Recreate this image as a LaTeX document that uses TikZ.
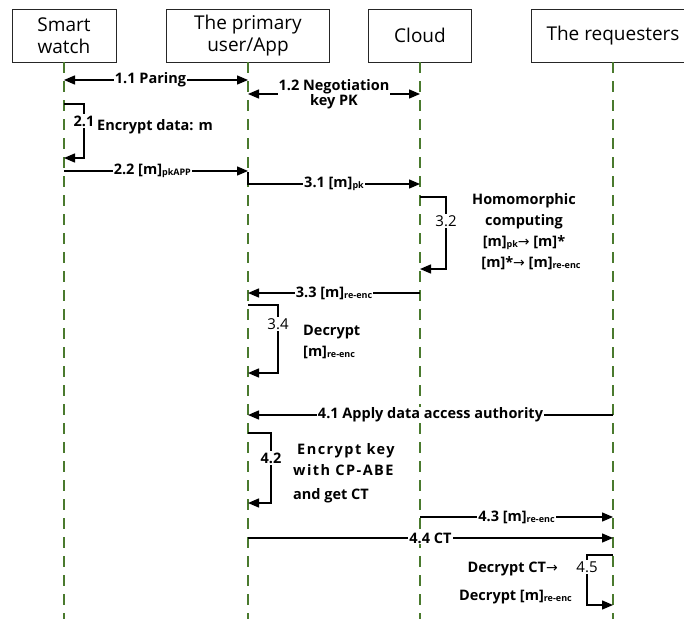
\documentclass[tikz,border=0pt]{standalone}
\usepackage{fontspec}
\setmainfont{Open Sans}
\newfontfamily\arrfont{DejaVu Sans}
\newfontfamily\lsfont[LetterSpace=10]{Open Sans}
\usetikzlibrary{arrows.meta}
\definecolor{lifegreen}{HTML}{4A7A2E}
\newcommand{\sbs}[1]{\raisebox{-1pt}{\fontsize{9}{9}\selectfont #1}}
\newcommand{\rarr}{{\arrfont\mdseries\fontsize{14}{14}\selectfont →}}
\begin{document}
\begin{tikzpicture}[x=1pt,y=-1pt,
  actor/.style={draw=black!85, line width=0.9pt, minimum height=53pt,
    font=\fontsize{19}{22.5}\selectfont, align=center, inner sep=0pt},
  life/.style={draw=lifegreen, line width=1.3pt, dash pattern=on 11pt off 8pt},
  msg/.style={line width=1.4pt, -{Triangle[length=11pt,width=9pt]}},
  msgboth/.style={line width=1.4pt, {Triangle[length=11pt,width=9pt]}-{Triangle[length=11pt,width=9pt]}},
  loop/.style={line width=1.4pt, -{Triangle[length=11pt,width=9pt]}},
  lbl/.style={fill=white, inner sep=1pt, font=\bfseries\fontsize{14.5}{17}\selectfont, align=center},
  num/.style={fill=white, inner sep=1.5pt, font=\fontsize{15}{16}\selectfont},
  bnum/.style={fill=white, inner sep=1.5pt, font=\bfseries\fontsize{14.5}{16}\selectfont},
  txt/.style={font=\bfseries\fontsize{14.5}{21}\selectfont, inner sep=0pt},
]
\clip (0,0) rectangle (684,618);
\fill[white] (0,0) rectangle (684,618);

% actors
\node[actor, minimum width=104pt] (sw) at (64,35.5) {Smart\\watch};
\node[actor, minimum width=163pt] (app) at (248,35.5) {The primary\\user/App};
\node[actor, minimum width=103pt] (cl) at (420,35.5) {Cloud};
\node[actor, minimum width=164pt] (rq) at (613,35.5) {The requesters};

% lifelines
\draw[life] (sw.south) -- (sw.south |- 0,620);
\draw[life] (app.south) -- (app.south |- 0,620);
\draw[life] (cl.south) -- (cl.south |- 0,620);
\draw[life] (rq.south) -- (rq.south |- 0,620);

% 1.1
\draw[msgboth] (sw.south |- 0,80) -- node[lbl, pos=0.47] {1.1 Paring} (app.south |- 0,80);
% 1.2
\draw[msgboth] (app.south |- 0,94) -- node[lbl] {1.2 Negotiation\\[-2pt]key PK} (cl.south |- 0,94);
% 2.1
\draw[loop] (sw.south |- 0,104) -- ++(20,0) -- ++(0,54) -- (sw.south |- 0,158);
\node[bnum] (n21) at (84,121) {2.1};
\node[txt, anchor=west] (t21) at (97,127) {Encrypt data: m};
% 2.2
\draw[msg] (sw.south |- 0,171) -- node[lbl, pos=0.48] {2.2 [m]\sbs{pkAPP}} (app.south |- 0,171);
% 3.1
\draw[msg] (app.south |- 0,172) |- node[lbl, pos=0.75] {3.1 [m]\sbs{pk}} (cl.south |- 0,184);
% 3.2
\draw[loop] (cl.south |- 0,197) -- ++(26,0) -- ++(0,72) -- (cl.south |- 0,269);
\node[num] (n32) at (446,221) {3.2};
\node[txt, align=center] (t32) at (524,231.5) {Homomorphic\\computing\\{}[m]\sbs{pk}\rarr\ [m]*\\{}\hspace*{14pt}[m]*\rarr\ [m]\sbs{re-enc}};
% 3.3
\draw[msg] (cl.south |- 0,293) -- node[lbl] {3.3 [m]\sbs{re-enc}} (app.south |- 0,293);
% 3.4
\draw[loop] (app.south |- 0,305) -- ++(30,0) -- ++(0,68) -- (app.south |- 0,373);
\node[num] (n34) at (278,324) {3.4};
\node[txt, anchor=west, align=left] (t34) at (303,341.5) {Decrypt\\{}[m]\sbs{re-enc}};
% 4.1
\draw[msg] (rq.south |- 0,415) -- node[lbl] {4.1 Apply data access authority} (app.south |- 0,415);
% 4.2
\draw[loop] (app.south |- 0,433) -- ++(23,0) -- ++(0,70) -- (app.south |- 0,503);
\node[bnum] (n42) at (271,458) {4.2};
\node[txt, anchor=north west, align=left] (t42) at (293,443) {\lsfont\bfseries\hspace*{4pt}Encrypt key\\\lsfont\bfseries with CP-ABE\\[3pt]and get CT};
% 4.3
\draw[msg] (cl.south |- 0,517) -- node[lbl] {4.3 [m]\sbs{re-enc}} (rq.south |- 0,517);
% 4.4
\draw[msg] (app.south |- 0,538) -- node[lbl, pos=0.5] {4.4 CT} (rq.south |- 0,538);
% 4.5
\draw[loop] (rq.south |- 0,555) -- ++(-26,0) -- ++(0,50) -- (rq.south |- 0,605);
\node[num] (n45) at (587,567) {4.5};
\node[txt, anchor=east] (t45a) at (558,569) {Decrypt CT\rarr};
\node[txt, anchor=east] (t45b) at (572,597) {Decrypt [m]\sbs{re-enc}};
\end{tikzpicture}
\end{document}
